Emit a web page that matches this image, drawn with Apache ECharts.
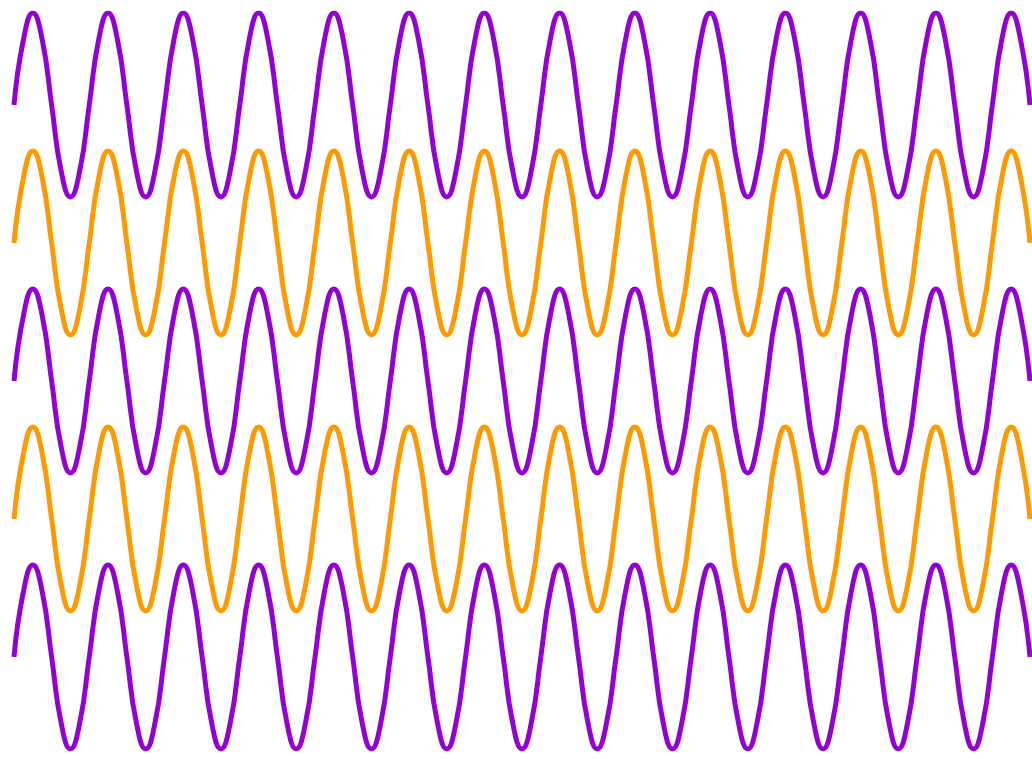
<!DOCTYPE html>
<html>
<head>
<meta charset="utf-8">
<script src="https://cdn.jsdelivr.net/npm/echarts@6/dist/echarts.min.js"></script>
<style>html,body{margin:0;padding:0;background:#fff;}#c{width:1032px;height:759px;}</style>
</head>
<body>
<div id="c"></div>
<script>
// Values read at eighth-period steps (13.5 periods); units: 1 = wave amplitude.
const purple1 = [
6,6.71,7,6.71,6,5.29,5,5.29,
6,6.71,7,6.71,6,5.29,5,5.29,
6,6.71,7,6.71,6,5.29,5,5.29,
6,6.71,7,6.71,6,5.29,5,5.29,
6,6.71,7,6.71,6,5.29,5,5.29,
6,6.71,7,6.71,6,5.29,5,5.29,
6,6.71,7,6.71,6,5.29,5,5.29,
6,6.71,7,6.71,6,5.29,5,5.29,
6,6.71,7,6.71,6,5.29,5,5.29,
6,6.71,7,6.71,6,5.29,5,5.29,
6,6.71,7,6.71,6,5.29,5,5.29,
6,6.71,7,6.71,6,5.29,5,5.29,
6,6.71,7,6.71,6,5.29,5,5.29,
6,6.71,7,6.71,6
];
const orange1 = [
4.5,5.21,5.5,5.21,4.5,3.79,3.5,3.79,
4.5,5.21,5.5,5.21,4.5,3.79,3.5,3.79,
4.5,5.21,5.5,5.21,4.5,3.79,3.5,3.79,
4.5,5.21,5.5,5.21,4.5,3.79,3.5,3.79,
4.5,5.21,5.5,5.21,4.5,3.79,3.5,3.79,
4.5,5.21,5.5,5.21,4.5,3.79,3.5,3.79,
4.5,5.21,5.5,5.21,4.5,3.79,3.5,3.79,
4.5,5.21,5.5,5.21,4.5,3.79,3.5,3.79,
4.5,5.21,5.5,5.21,4.5,3.79,3.5,3.79,
4.5,5.21,5.5,5.21,4.5,3.79,3.5,3.79,
4.5,5.21,5.5,5.21,4.5,3.79,3.5,3.79,
4.5,5.21,5.5,5.21,4.5,3.79,3.5,3.79,
4.5,5.21,5.5,5.21,4.5,3.79,3.5,3.79,
4.5,5.21,5.5,5.21,4.5
];
const purple2 = [
3,3.71,4,3.71,3,2.29,2,2.29,
3,3.71,4,3.71,3,2.29,2,2.29,
3,3.71,4,3.71,3,2.29,2,2.29,
3,3.71,4,3.71,3,2.29,2,2.29,
3,3.71,4,3.71,3,2.29,2,2.29,
3,3.71,4,3.71,3,2.29,2,2.29,
3,3.71,4,3.71,3,2.29,2,2.29,
3,3.71,4,3.71,3,2.29,2,2.29,
3,3.71,4,3.71,3,2.29,2,2.29,
3,3.71,4,3.71,3,2.29,2,2.29,
3,3.71,4,3.71,3,2.29,2,2.29,
3,3.71,4,3.71,3,2.29,2,2.29,
3,3.71,4,3.71,3,2.29,2,2.29,
3,3.71,4,3.71,3
];
const orange2 = [
1.5,2.21,2.5,2.21,1.5,0.79,0.5,0.79,
1.5,2.21,2.5,2.21,1.5,0.79,0.5,0.79,
1.5,2.21,2.5,2.21,1.5,0.79,0.5,0.79,
1.5,2.21,2.5,2.21,1.5,0.79,0.5,0.79,
1.5,2.21,2.5,2.21,1.5,0.79,0.5,0.79,
1.5,2.21,2.5,2.21,1.5,0.79,0.5,0.79,
1.5,2.21,2.5,2.21,1.5,0.79,0.5,0.79,
1.5,2.21,2.5,2.21,1.5,0.79,0.5,0.79,
1.5,2.21,2.5,2.21,1.5,0.79,0.5,0.79,
1.5,2.21,2.5,2.21,1.5,0.79,0.5,0.79,
1.5,2.21,2.5,2.21,1.5,0.79,0.5,0.79,
1.5,2.21,2.5,2.21,1.5,0.79,0.5,0.79,
1.5,2.21,2.5,2.21,1.5,0.79,0.5,0.79,
1.5,2.21,2.5,2.21,1.5
];
const purple3 = [
0,0.71,1,0.71,0,-0.71,-1,-0.71,
0,0.71,1,0.71,0,-0.71,-1,-0.71,
0,0.71,1,0.71,0,-0.71,-1,-0.71,
0,0.71,1,0.71,0,-0.71,-1,-0.71,
0,0.71,1,0.71,0,-0.71,-1,-0.71,
0,0.71,1,0.71,0,-0.71,-1,-0.71,
0,0.71,1,0.71,0,-0.71,-1,-0.71,
0,0.71,1,0.71,0,-0.71,-1,-0.71,
0,0.71,1,0.71,0,-0.71,-1,-0.71,
0,0.71,1,0.71,0,-0.71,-1,-0.71,
0,0.71,1,0.71,0,-0.71,-1,-0.71,
0,0.71,1,0.71,0,-0.71,-1,-0.71,
0,0.71,1,0.71,0,-0.71,-1,-0.71,
0,0.71,1,0.71,0
];

const PURPLE = '#9400d3';
const ORANGE = '#ff9900';

function toPairs(arr) { return arr.map((v, i) => [i, v]); }
function lineSeries(name, arr, color) {
  return {
    name: name, type: 'line', data: toPairs(arr), smooth: true,
    showSymbol: false, symbol: 'none',
    lineStyle: { color: color, width: 5, cap: 'butt' },
    silent: true
  };
}

const chart = echarts.init(document.getElementById('c'));
chart.setOption({
  animation: false,
  backgroundColor: '#ffffff',
  grid: { left: 14, right: 2, top: 13, bottom: 10 },
  xAxis: { type: 'value', min: 0, max: purple1.length - 1, show: false },
  yAxis: { type: 'value', min: -1, max: 7, show: false },
  series: [
    lineSeries('purple1', purple1, PURPLE),
    lineSeries('orange1', orange1, ORANGE),
    lineSeries('purple2', purple2, PURPLE),
    lineSeries('orange2', orange2, ORANGE),
    lineSeries('purple3', purple3, PURPLE)
  ]
});
</script>
</body>
</html>
